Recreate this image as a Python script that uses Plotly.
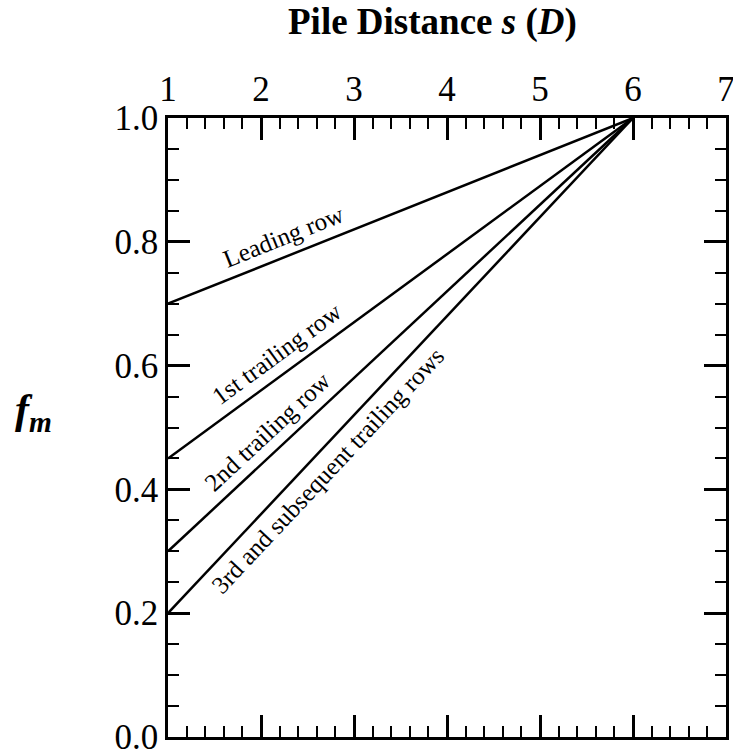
import math
import plotly.graph_objects as go

# Data
row_names = ["Leading row", "1st trailing row", "2nd trailing row",
             "3rd and subsequent trailing rows"]
fm_at_s1 = [0.7, 0.45, 0.3, 0.2]
s_start = [1, 1, 1, 1]
s_end = [6, 6, 6, 6]
fm_at_end = [1.0, 1.0, 1.0, 1.0]
x_ticks = [1, 2, 3, 4, 5, 6, 7]
y_ticks = [0.0, 0.2, 0.4, 0.6, 0.8, 1.0]

# label anchor position along each line (x in data units) and offset
label_x = [2.24, 2.17, 2.07, 2.72]
label_y = [0.808, 0.62, 0.493, 0.43]

W, H = 733, 752
ML, MR, MT, MB = 168, 7, 118, 15
pw = W - ML - MR
ph = H - MT - MB
X0, X1 = 1, 7
Y0, Y1 = 0, 1

FONT = "Liberation Serif"

fig = go.Figure()
for name, xs, xe, ys, ye in zip(row_names, s_start, s_end, fm_at_s1, fm_at_end):
    fig.add_trace(go.Scatter(x=[xs, xe], y=[ys, ye], mode="lines",
                             line=dict(color="black", width=2.5),
                             name=name, showlegend=False, hoverinfo="skip"))

annotations = []
for name, xs, xe, ys, ye, lx, ly in zip(row_names, s_start, s_end, fm_at_s1,
                                        fm_at_end, label_x, label_y):
    slope = (ye - ys) / (xe - xs)
    pix_slope = slope * (ph / (Y1 - Y0)) / (pw / (X1 - X0))
    ang = -math.degrees(math.atan(pix_slope))
    annotations.append(dict(x=lx, y=ly, xref="x", yref="y", text=name,
                            showarrow=False, textangle=ang,
                            font=dict(family=FONT, size=25, color="black"),
                            xanchor="center", yanchor="middle"))

annotations.append(dict(x=(432 - ML) / pw, y=(H - MB - 22) / ph, xref="paper",
                        yref="paper",
                        text="<b>Pile Distance <i>s</i> (<i>D</i>)</b>",
                        showarrow=False, xanchor="center", yanchor="middle",
                        font=dict(family=FONT, size=37, color="black")))
annotations.append(dict(x=(33 - ML) / pw, y=(H - MB - 412) / ph, xref="paper",
                        yref="paper",
                        text="<b><i>f<sub>m</sub></i></b>",
                        showarrow=False, xanchor="center", yanchor="middle",
                        font=dict(family=FONT, size=42, color="black")))

fig.update_layout(
    width=W, height=H,
    margin=dict(l=ML, r=MR, t=MT, b=MB, autoexpand=False),
    paper_bgcolor="white", plot_bgcolor="white",
    annotations=annotations,
    xaxis=dict(range=[X0, X1], side="top", tickvals=x_ticks,
               ticktext=[str(v) for v in x_ticks],
               ticks="inside", ticklen=22, tickwidth=2.5, tickcolor="black",
               minor=dict(dtick=0.2, ticks="inside", ticklen=11, tickwidth=2,
                          tickcolor="black", showgrid=False),
               showline=True, linecolor="black", linewidth=2.5,
               mirror="ticks", showgrid=False, zeroline=False,
               automargin=False, ticklabeloverflow="allow",
               tickfont=dict(family=FONT, size=35, color="black")),
    yaxis=dict(range=[Y0, Y1], tickvals=y_ticks,
               ticktext=[f"{v:.1f}" for v in y_ticks],
               ticks="inside", ticklen=22, tickwidth=2.5, tickcolor="black",
               minor=dict(dtick=0.05, ticks="inside", ticklen=11, tickwidth=2,
                          tickcolor="black", showgrid=False),
               showline=True, linecolor="black", linewidth=2.5,
               mirror="ticks", showgrid=False, zeroline=False,
               automargin=False, ticklabeloverflow="allow",
               tickfont=dict(family=FONT, size=35, color="black")),
)

fig.write_html("out.html")
